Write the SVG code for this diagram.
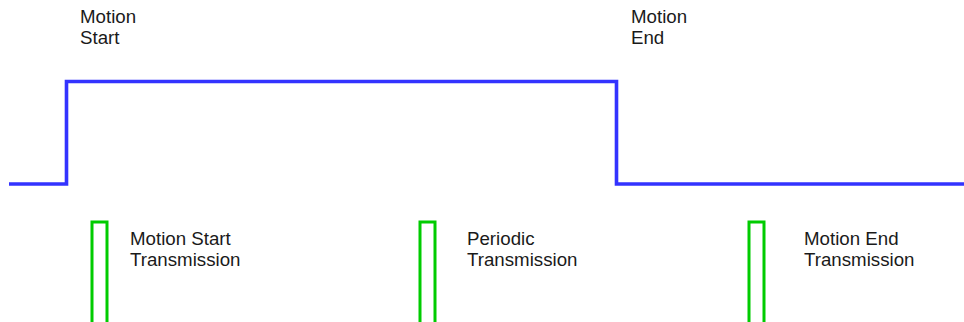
<svg xmlns="http://www.w3.org/2000/svg" width="964" height="322" viewBox="0 0 964 322">
<style>
.lbl{font-family:"Liberation Sans",Arial,sans-serif;font-size:18.7px;fill:#1a1a1a}
.sig{fill:none;stroke:#3333ff;stroke-width:3.6;stroke-linejoin:miter}
.pulse{fill:none;stroke:#00cc00;stroke-width:3}
</style>
<rect width="964" height="322" fill="#ffffff"/>
<g id="connectors">
<polyline id="motion-signal" class="sig" points="9,184 66.5,184 66.5,81.5 616.5,81.5 616.5,184 964,184"/>
<polyline id="pulse-start" class="pulse" points="92,322 92,222 107,222 107,322"/>
<polyline id="pulse-periodic" class="pulse" points="420,322 420,222 435,222 435,322"/>
<polyline id="pulse-end" class="pulse" points="749,322 749,222 764,222 764,322"/>
</g>
<g id="label-motion-start">
<text class="lbl" x="80" y="23">Motion</text>
<text class="lbl" x="80" y="44">Start</text>
</g>
<g id="label-motion-end">
<text class="lbl" x="631" y="23">Motion</text>
<text class="lbl" x="631" y="44">End</text>
</g>
<g id="label-start-tx">
<text class="lbl" x="130" y="245">Motion Start</text>
<text class="lbl" x="130" y="266">Transmission</text>
</g>
<g id="label-periodic-tx">
<text class="lbl" x="467" y="245">Periodic</text>
<text class="lbl" x="467" y="266">Transmission</text>
</g>
<g id="label-end-tx">
<text class="lbl" x="804" y="245">Motion End</text>
<text class="lbl" x="804" y="266">Transmission</text>
</g>
</svg>
